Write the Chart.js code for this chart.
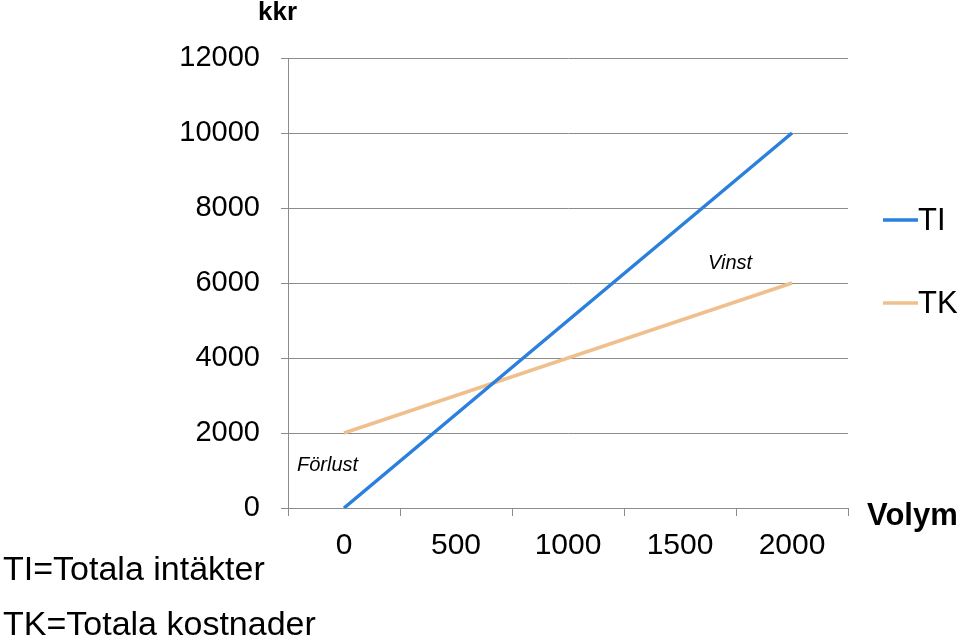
<!DOCTYPE html>
<html>
<head>
<meta charset="utf-8">
<script src="https://cdn.jsdelivr.net/npm/chart.js@4"></script>
<style>
  html, body { margin: 0; padding: 0; background: #fff; }
  #wrap { width: 960px; height: 640px; position: relative; }
</style>
</head>
<body>
<div id="wrap"><canvas id="chart" width="960" height="640"></canvas></div>
<script>
// Volym (x categories) and the two series in kkr
const volumes = ['0', '500', '1000', '1500', '2000'];
const intakter = [0, 2500, 5000, 7500, 10000];   // TI
const kostnader = [2000, 3000, 4000, 5000, 6000]; // TK
const yTicks = [0, 2000, 4000, 6000, 8000, 10000, 12000];

const gridColor = '#8c8c8c';
const font = 'Liberation Sans, Arial, sans-serif';

// Extra texts: axis titles, region labels, legend and explanations
const extraText = {
  id: 'extraText',
  afterDraw(chart) {
    const c = chart.ctx;
    c.save();
    c.fillStyle = '#000';
    c.textBaseline = 'middle';

    c.font = 'bold 26px ' + font;
    c.textAlign = 'left';
    c.fillText('kkr', 258, 13);
    c.font = 'bold 31px ' + font;
    c.fillText('Volym', 867, 516);

    c.font = 'italic 20px ' + font;
    c.fillText('Vinst', 708, 263);
    c.fillText('Förlust', 297, 465);

    c.font = '34px ' + font;
    c.fillText('TI=Totala intäkter', 3, 571);
    c.fillText('TK=Totala kostnader', 3, 626);

    // legend
    const legendY = [220, 303];
    chart.data.datasets.forEach((ds, i) => {
      c.strokeStyle = ds.borderColor;
      c.lineWidth = 3.5;
      c.beginPath();
      c.moveTo(883, legendY[i]);
      c.lineTo(918, legendY[i]);
      c.stroke();
      c.fillStyle = '#000';
      c.font = '31px ' + font;
      c.fillText(ds.label, 918, legendY[i] + 1);
    });
    c.restore();
  }
};

new Chart(document.getElementById('chart'), {
  type: 'line',
  data: {
    labels: volumes,
    datasets: [
      {
        label: 'TI',
        data: intakter,
        borderColor: '#2a80dc',
        borderWidth: 3.5,
        pointRadius: 0,
        tension: 0
      },
      {
        label: 'TK',
        data: kostnader,
        borderColor: '#efc08e',
        borderWidth: 3.5,
        pointRadius: 0,
        tension: 0
      }
    ]
  },
  options: {
    responsive: false,
    animation: false,
    layout: { padding: { top: 58, right: 112, left: 0, bottom: 0 } },
    plugins: {
      legend: { display: false },
      tooltip: { enabled: false }
    },
    scales: {
      x: {
        type: 'category',
        offset: true,
        grid: {
          offset: true,
          drawOnChartArea: false,
          color: gridColor,
          tickLength: 8
        },
        border: { color: gridColor },
        ticks: {
          color: '#000',
          font: { family: font, size: 30 },
          padding: 12,
          maxRotation: 0
        },
        afterFit(axis) { axis.height = 132; }
      },
      y: {
        min: 0,
        max: 12000,
        afterBuildTicks(axis) { axis.ticks = yTicks.map(v => ({ value: v })); },
        grid: { color: gridColor, tickLength: 7 },
        border: { color: gridColor },
        ticks: {
          color: '#000',
          font: { family: font, size: 29 },
          padding: 21,
          callback: v => String(v)
        },
        afterFit(axis) { axis.width = 288; }
      }
    }
  },
  plugins: [extraText]
});
</script>
</body>
</html>
